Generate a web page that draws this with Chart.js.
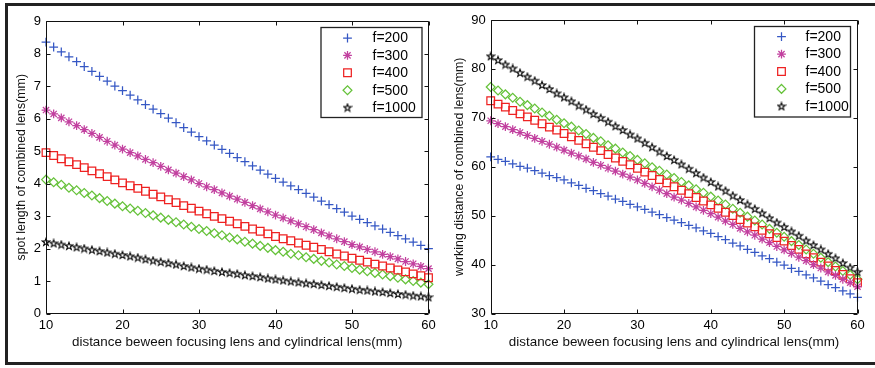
<!DOCTYPE html>
<html><head><meta charset="utf-8">
<script src="https://cdn.jsdelivr.net/npm/chart.js@4.4.0/dist/chart.umd.min.js"></script>
<style>
html,body{margin:0;padding:0;background:#fff;}
body{width:875px;height:368px;position:relative;overflow:hidden;}
#frame{position:absolute;left:5px;top:3px;width:885px;height:362px;box-sizing:border-box;border-top:3px solid #222;border-left:3px solid #222;border-bottom:3px solid #222;}
#c1{position:absolute;left:0;top:0;width:440px;height:368px;}
#c2{position:absolute;left:438px;top:0;width:437px;height:368px;}
</style></head><body>
<div id="frame"></div>
<canvas id="c1" width="440" height="368"></canvas>
<canvas id="c2" width="437" height="368"></canvas>
<script>
// ---------- data ----------
const distance = [10,11,12,13,14,15,16,17,18,19,20,21,22,23,24,25,26,27,28,29,30,31,32,33,34,35,36,37,38,39,40,41,42,43,44,45,46,47,48,49,50,51,52,53,54,55,56,57,58,59,60];
const seriesLabels = ['f=200','f=300','f=400','f=500','f=1000'];

// spot length of combined lens (mm)
const spot200 = [8.35,8.20,8.05,7.90,7.75,7.60,7.45,7.30,7.15,7.00,6.86,6.72,6.57,6.43,6.29,6.15,6.01,5.87,5.72,5.58,5.44,5.31,5.18,5.05,4.93,4.80,4.67,4.54,4.41,4.29,4.16,4.04,3.93,3.81,3.70,3.58,3.46,3.35,3.23,3.12,3.00,2.90,2.80,2.70,2.60,2.50,2.40,2.30,2.20,2.10,2.00];
const spot300 = [6.26,6.14,6.02,5.90,5.78,5.66,5.54,5.42,5.30,5.18,5.06,4.95,4.85,4.74,4.64,4.53,4.42,4.32,4.21,4.11,4.00,3.90,3.81,3.71,3.61,3.52,3.42,3.32,3.22,3.13,3.03,2.94,2.85,2.76,2.67,2.58,2.48,2.39,2.30,2.21,2.12,2.05,1.97,1.90,1.82,1.75,1.68,1.60,1.53,1.45,1.38];
const spot400 = [4.95,4.86,4.76,4.67,4.58,4.49,4.39,4.30,4.21,4.11,4.02,3.93,3.85,3.76,3.67,3.59,3.50,3.41,3.32,3.24,3.15,3.07,2.99,2.92,2.84,2.76,2.68,2.60,2.53,2.45,2.37,2.30,2.24,2.17,2.10,2.04,1.97,1.90,1.83,1.77,1.70,1.64,1.58,1.52,1.46,1.40,1.34,1.28,1.22,1.16,1.10];
const spot500 = [4.12,4.04,3.96,3.87,3.79,3.71,3.63,3.55,3.46,3.38,3.30,3.23,3.16,3.09,3.02,2.95,2.88,2.81,2.74,2.67,2.60,2.54,2.47,2.41,2.34,2.28,2.21,2.15,2.08,2.02,1.95,1.90,1.84,1.79,1.73,1.68,1.62,1.57,1.51,1.46,1.40,1.35,1.30,1.25,1.20,1.15,1.10,1.05,1.00,0.95,0.90];
const spot1000 = [2.20,2.16,2.12,2.08,2.04,2.00,1.96,1.92,1.88,1.84,1.80,1.76,1.72,1.67,1.63,1.59,1.55,1.51,1.46,1.42,1.38,1.35,1.31,1.28,1.25,1.22,1.18,1.15,1.12,1.08,1.05,1.02,0.99,0.96,0.93,0.91,0.88,0.85,0.82,0.79,0.76,0.73,0.71,0.68,0.66,0.63,0.60,0.58,0.55,0.53,0.50];

// working distance of combined lens (mm)
const work200 = [62.0,61.5,61.1,60.6,60.1,59.7,59.2,58.7,58.2,57.8,57.3,56.7,56.2,55.6,55.1,54.5,54.0,53.4,52.9,52.3,51.8,51.3,50.7,50.2,49.6,49.1,48.6,48.0,47.5,46.9,46.4,45.7,45.1,44.4,43.8,43.1,42.5,41.8,41.2,40.5,39.9,39.2,38.6,37.9,37.3,36.6,35.9,35.3,34.6,34.0,33.3];
const work300 = [69.4,68.8,68.2,67.6,67.0,66.4,65.8,65.2,64.6,64.0,63.4,62.8,62.2,61.6,60.9,60.3,59.7,59.1,58.5,57.9,57.3,56.6,55.9,55.2,54.5,53.8,53.2,52.5,51.8,51.1,50.4,49.7,48.9,48.2,47.4,46.7,46.0,45.2,44.5,43.7,43.0,42.3,41.5,40.8,40.0,39.3,38.5,37.8,37.0,36.3,35.5];
const work400 = [73.5,72.8,72.2,71.5,70.8,70.2,69.5,68.8,68.1,67.5,66.8,66.1,65.4,64.7,64.0,63.3,62.5,61.8,61.1,60.4,59.7,58.9,58.2,57.4,56.7,55.9,55.2,54.5,53.7,53.0,52.2,51.5,50.7,50.0,49.2,48.5,47.7,47.0,46.3,45.5,44.8,43.9,43.1,42.2,41.4,40.5,39.7,38.8,38.0,37.1,36.3];
const work500 = [76.3,75.6,74.8,74.1,73.3,72.6,71.9,71.1,70.4,69.6,68.9,68.2,67.4,66.7,65.9,65.2,64.4,63.7,62.9,62.2,61.4,60.7,59.9,59.2,58.4,57.7,56.9,56.2,55.4,54.7,53.9,53.1,52.3,51.4,50.6,49.8,49.0,48.2,47.3,46.5,45.7,44.8,44.0,43.1,42.2,41.4,40.5,39.6,38.7,37.9,37.0];
const work1000 = [82.6,81.8,80.9,80.1,79.2,78.4,77.6,76.7,75.9,75.0,74.2,73.4,72.5,71.7,70.8,70.0,69.2,68.3,67.5,66.6,65.8,64.9,64.0,63.1,62.2,61.4,60.5,59.6,58.7,57.8,56.9,56.0,55.1,54.1,53.2,52.3,51.4,50.5,49.5,48.6,47.7,46.8,45.9,44.9,44.0,43.1,42.2,41.3,40.3,39.4,38.5];

const spotTicks = {min:0, max:9, step:1};
const workTicks = {min:30, max:90, step:10};
const xTicks = {min:10, max:60, step:10};

// ---------- styles ----------
const FONT = "'Liberation Sans', Arial, sans-serif";
function pentagram(outer, inner){
  const c = document.createElement('canvas');
  c.width = 10; c.height = 10;
  const g = c.getContext('2d');
  g.strokeStyle = '#000'; g.lineWidth = 1.1;
  g.beginPath();
  for (let i=0;i<10;i++){
    const r = i%2===0 ? outer : inner;
    const a = -Math.PI/2 + i*Math.PI/5;
    const px = 5 + r*Math.cos(a), py = 5.3 + r*Math.sin(a);
    if (i===0) g.moveTo(px,py); else g.lineTo(px,py);
  }
  g.closePath(); g.stroke();
  return c;
}
const starImg = pentagram(3.9, 1.6);
const markers = [
  {style:'cross',   color:'#3557c4', r:4.4},
  {style:'star',    color:'#c2409f', r:4.4},
  {style:'rect',    color:'#ee2222', r:5.4},
  {style:'rectRot', color:'#66c23a', r:4.4},
  {style:starImg,   color:'#000000', r:4}
];

function makeDatasets(seriesList){
  return seriesList.map((vals,i)=>({
    label: seriesLabels[i],
    data: distance.map((x,j)=>({x:x, y:vals[j]})),
    showLine:false,
    pointStyle: markers[i].style,
    pointRadius: markers[i].r,
    pointHoverRadius: markers[i].r,
    pointBorderColor: markers[i].color,
    pointBackgroundColor: 'rgba(0,0,0,0)',
    pointBorderWidth: 1.25,
    clip: false
  }));
}

function drawMarker(ctx, m, x, y){
  ctx.save();
  ctx.strokeStyle = m.color; ctx.lineWidth = 1.25;
  const r = m.r;
  if (typeof m.style !== 'string'){
    ctx.drawImage(m.style, x - m.style.width/2, y - m.style.height/2);
  } else {
    ctx.beginPath();
    if (m.style==='cross' || m.style==='star'){
      ctx.moveTo(x-r,y); ctx.lineTo(x+r,y);
      ctx.moveTo(x,y-r); ctx.lineTo(x,y+r);
      if (m.style==='star'){
        const d = r*Math.SQRT1_2;
        ctx.moveTo(x-d,y-d); ctx.lineTo(x+d,y+d);
        ctx.moveTo(x-d,y+d); ctx.lineTo(x+d,y-d);
      }
    } else if (m.style==='rect'){
      const s = r*Math.SQRT1_2;
      ctx.rect(x-s,y-s,2*s,2*s);
    } else if (m.style==='rectRot'){
      ctx.moveTo(x-r,y); ctx.lineTo(x,y-r); ctx.lineTo(x+r,y); ctx.lineTo(x,y+r); ctx.closePath();
    }
    ctx.stroke();
  }
  ctx.restore();
}

const boxPlugin = {
  id:'matlabBox',
  afterDraw(chart, args, opts){
    const {ctx, chartArea:a, scales} = chart;
    ctx.save();
    ctx.strokeStyle = '#111'; ctx.lineWidth = 1;
    const L = Math.round(a.left)+0.5, R = Math.round(a.right)-0.5, T = Math.round(a.top)+0.5, B = Math.round(a.bottom)-0.5;
    ctx.beginPath();
    ctx.rect(L, T, R-L, B-T);
    const tl = 4;
    scales.x.ticks.forEach(t=>{
      const px = Math.round(scales.x.getPixelForValue(t.value))+0.5;
      ctx.moveTo(px,B); ctx.lineTo(px,B-tl);
      ctx.moveTo(px,T); ctx.lineTo(px,T+tl);
    });
    scales.y.ticks.forEach(t=>{
      const py = Math.round(scales.y.getPixelForValue(t.value))+0.5;
      ctx.moveTo(L,py); ctx.lineTo(L+tl,py);
      ctx.moveTo(R,py); ctx.lineTo(R-tl,py);
    });
    ctx.stroke();
    // legend
    const lg = opts.legend;
    const bx = a.right - lg.inset - lg.w, by = a.top + lg.top;
    ctx.fillStyle = '#fff';
    ctx.fillRect(bx, by, lg.w, lg.h);
    ctx.strokeStyle = '#222'; ctx.lineWidth = 1.3;
    ctx.strokeRect(bx+0.5, by+0.5, lg.w, lg.h);
    ctx.font = lg.fontSize + 'px ' + FONT;
    ctx.fillStyle = '#000'; ctx.textBaseline = 'middle'; ctx.textAlign = 'left';
    chart.data.datasets.forEach((ds,i)=>{
      const cy = by + lg.row0 + i*lg.rowH;
      drawMarker(ctx, markers[i], bx + lg.mx, cy);
      ctx.fillText(ds.label, bx + lg.tx, cy+0.5);
    });
    ctx.restore();
  }
};

function makeChart(id, seriesList, yt, yTitle, pad, yWidth, legend){
  return new Chart(document.getElementById(id), {
    type:'scatter',
    data:{datasets: makeDatasets(seriesList)},
    plugins:[boxPlugin],
    options:{
      responsive:false, animation:false, devicePixelRatio:1,
      layout:{padding:pad},
      plugins:{legend:{display:false}, tooltip:{enabled:false}, matlabBox:{legend:legend}},
      scales:{
        x:{type:'linear', min:xTicks.min, max:xTicks.max,
           afterFit:(s)=>{ s.height = 40.5; },
           ticks:{stepSize:xTicks.step, color:'#000', padding:4, font:{family:FONT, size:13}, maxRotation:0},
           grid:{display:false, drawTicks:false}, border:{display:false},
           title:{display:true, text:'distance beween focusing lens and cylindrical lens(mm)', color:'#111',
                  font:{family:FONT, size:13.4}, padding:{top:0,bottom:4}}},
        y:{type:'linear', min:yt.min, max:yt.max,
           afterFit:(s)=>{ s.width = yWidth; },
           ticks:{stepSize:yt.step, color:'#000', padding:5, font:{family:FONT, size:13}},
           grid:{display:false, drawTicks:false}, border:{display:false},
           title:{display:true, text:yTitle, color:'#111', font:{family:FONT, size:12.4}, padding:{top:8.5,bottom:0}}}
      }
    }
  });
}

makeChart('c1', [spot200,spot300,spot400,spot500,spot1000], spotTicks,
  'spot length of combined lens(mm)',
  {left:6, top:21, right:11.5, bottom:14}, 40,
  {inset:7, top:6, w:101, h:90, mx:27, tx:52, row0:11, rowH:17.4, fontSize:14});
makeChart('c2', [work200,work300,work400,work500,work1000], workTicks,
  'working distance of combined lens(mm)',
  {left:6, top:20, right:17.5, bottom:14}, 46.7,
  {inset:7.5, top:6, w:96, h:90.5, mx:27.5, tx:51.5, row0:10.7, rowH:17.4, fontSize:14});
</script>
</body></html>
